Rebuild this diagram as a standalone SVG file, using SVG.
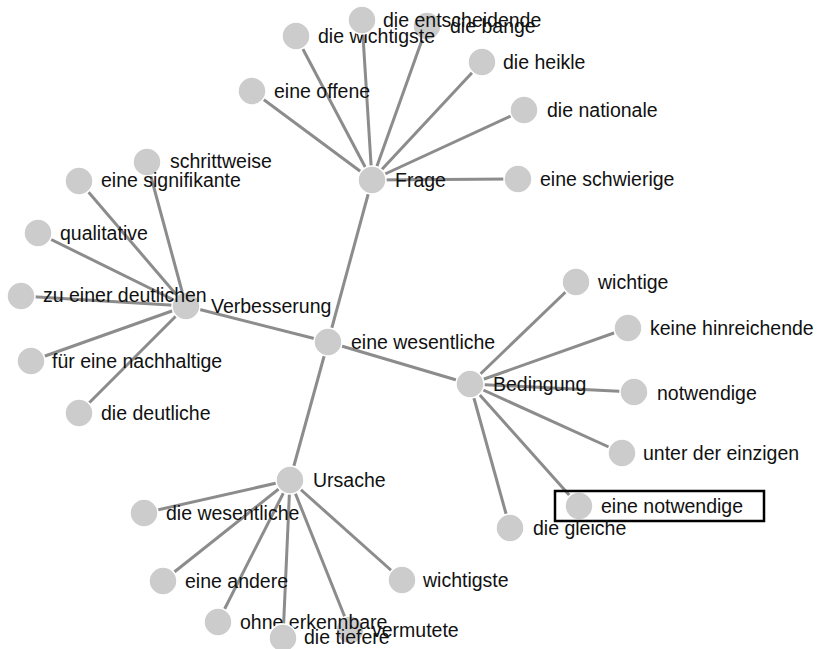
<svg xmlns="http://www.w3.org/2000/svg" width="821" height="649" viewBox="0 0 821 649">
<style>
.link{stroke:#8c8c8c;stroke-width:3;fill:none}
.node circle{fill:#cccccc;stroke:#ffffff;stroke-width:1.5}
.node text{font-family:"Liberation Sans",Arial,Helvetica,sans-serif;font-size:19.5px;fill:#111}
.hl{fill:none;stroke:#000;stroke-width:2.5}
</style>
<rect width="821" height="649" fill="#fff"/>
<g id="connectors">
<line class="link" x1="328" y1="342" x2="372" y2="180"/>
<line class="link" x1="328" y1="342" x2="186" y2="306"/>
<line class="link" x1="328" y1="342" x2="470" y2="384"/>
<line class="link" x1="328" y1="342" x2="290" y2="480"/>
<line class="link" x1="372" y1="180" x2="296" y2="36"/>
<line class="link" x1="372" y1="180" x2="362" y2="20"/>
<line class="link" x1="372" y1="180" x2="427" y2="26"/>
<line class="link" x1="372" y1="180" x2="482" y2="62"/>
<line class="link" x1="372" y1="180" x2="252" y2="91"/>
<line class="link" x1="372" y1="180" x2="524" y2="110"/>
<line class="link" x1="372" y1="180" x2="518" y2="179"/>
<line class="link" x1="186" y1="306" x2="147" y2="162"/>
<line class="link" x1="186" y1="306" x2="79" y2="181"/>
<line class="link" x1="186" y1="306" x2="38" y2="233"/>
<line class="link" x1="186" y1="306" x2="21" y2="296"/>
<line class="link" x1="186" y1="306" x2="31" y2="361"/>
<line class="link" x1="186" y1="306" x2="79" y2="413"/>
<line class="link" x1="470" y1="384" x2="576" y2="282"/>
<line class="link" x1="470" y1="384" x2="628" y2="328"/>
<line class="link" x1="470" y1="384" x2="634" y2="392"/>
<line class="link" x1="470" y1="384" x2="622" y2="453"/>
<line class="link" x1="470" y1="384" x2="579" y2="506"/>
<line class="link" x1="470" y1="384" x2="510" y2="528"/>
<line class="link" x1="290" y1="480" x2="144" y2="513"/>
<line class="link" x1="290" y1="480" x2="163" y2="581"/>
<line class="link" x1="290" y1="480" x2="218" y2="622"/>
<line class="link" x1="290" y1="480" x2="283" y2="638"/>
<line class="link" x1="290" y1="480" x2="350" y2="630"/>
<line class="link" x1="290" y1="480" x2="402" y2="580"/>
</g>
<g id="n-eine-wesentliche" class="node"><circle cx="328" cy="342" r="14"/><text x="351" y="349">eine wesentliche</text></g>
<g id="n-frage" class="node"><circle cx="372" cy="180" r="14"/><text x="395" y="187">Frage</text></g>
<g id="n-verbesserung" class="node"><circle cx="186" cy="306" r="14"/><text x="211" y="313">Verbesserung</text></g>
<g id="n-bedingung" class="node"><circle cx="470" cy="384" r="14"/><text x="493" y="391">Bedingung</text></g>
<g id="n-ursache" class="node"><circle cx="290" cy="480" r="14"/><text x="313" y="487">Ursache</text></g>
<g id="n-die-bange" class="node"><circle cx="427" cy="26" r="14"/><text x="450" y="33">die bange</text></g>
<g id="n-die-wichtigste" class="node"><circle cx="296" cy="36" r="14"/><text x="318" y="43">die wichtigste</text></g>
<g id="n-die-entscheidende" class="node"><circle cx="362" cy="20" r="14"/><text x="383" y="27">die entscheidende</text></g>
<g id="n-die-heikle" class="node"><circle cx="482" cy="62" r="14"/><text x="503" y="69">die heikle</text></g>
<g id="n-eine-offene" class="node"><circle cx="252" cy="91" r="14"/><text x="274" y="98">eine offene</text></g>
<g id="n-die-nationale" class="node"><circle cx="524" cy="110" r="14"/><text x="547" y="117">die nationale</text></g>
<g id="n-eine-schwierige" class="node"><circle cx="518" cy="179" r="14"/><text x="540" y="186">eine schwierige</text></g>
<g id="n-schrittweise" class="node"><circle cx="147" cy="162" r="14"/><text x="170" y="168">schrittweise</text></g>
<g id="n-eine-signifikante" class="node"><circle cx="79" cy="181" r="14"/><text x="101" y="187">eine signifikante</text></g>
<g id="n-qualitative" class="node"><circle cx="38" cy="233" r="14"/><text x="60" y="240">qualitative</text></g>
<g id="n-zu-einer-deutlichen" class="node"><circle cx="21" cy="296" r="14"/><text x="43" y="302">zu einer deutlichen</text></g>
<g id="n-fuer-eine-nachhaltige" class="node"><circle cx="31" cy="361" r="14"/><text x="52" y="368">für eine nachhaltige</text></g>
<g id="n-die-deutliche" class="node"><circle cx="79" cy="413" r="14"/><text x="101" y="420">die deutliche</text></g>
<g id="n-wichtige" class="node"><circle cx="576" cy="282" r="14"/><text x="598" y="289">wichtige</text></g>
<g id="n-keine-hinreichende" class="node"><circle cx="628" cy="328" r="14"/><text x="650" y="335">keine hinreichende</text></g>
<g id="n-notwendige" class="node"><circle cx="634" cy="392" r="14"/><text x="657" y="400">notwendige</text></g>
<g id="n-unter-der-einzigen" class="node"><circle cx="622" cy="453" r="14"/><text x="643" y="460">unter der einzigen</text></g>
<g id="n-eine-notwendige" class="node"><circle cx="579" cy="506" r="14"/><text x="601" y="513">eine notwendige</text><rect class="hl" x="555" y="491" width="209" height="30"/></g>
<g id="n-die-gleiche" class="node"><circle cx="510" cy="528" r="14"/><text x="533" y="535">die gleiche</text></g>
<g id="n-die-wesentliche" class="node"><circle cx="144" cy="513" r="14"/><text x="166" y="520">die wesentliche</text></g>
<g id="n-eine-andere" class="node"><circle cx="163" cy="581" r="14"/><text x="185" y="588">eine andere</text></g>
<g id="n-vermutete" class="node"><circle cx="350" cy="630" r="14"/><text x="372" y="637">vermutete</text></g>
<g id="n-ohne-erkennbare" class="node"><circle cx="218" cy="622" r="14"/><text x="240" y="629">ohne erkennbare</text></g>
<g id="n-die-tiefere" class="node"><circle cx="283" cy="638" r="14"/><text x="304" y="644">die tiefere</text></g>
<g id="n-wichtigste" class="node"><circle cx="402" cy="580" r="14"/><text x="423" y="587">wichtigste</text></g>
</svg>
